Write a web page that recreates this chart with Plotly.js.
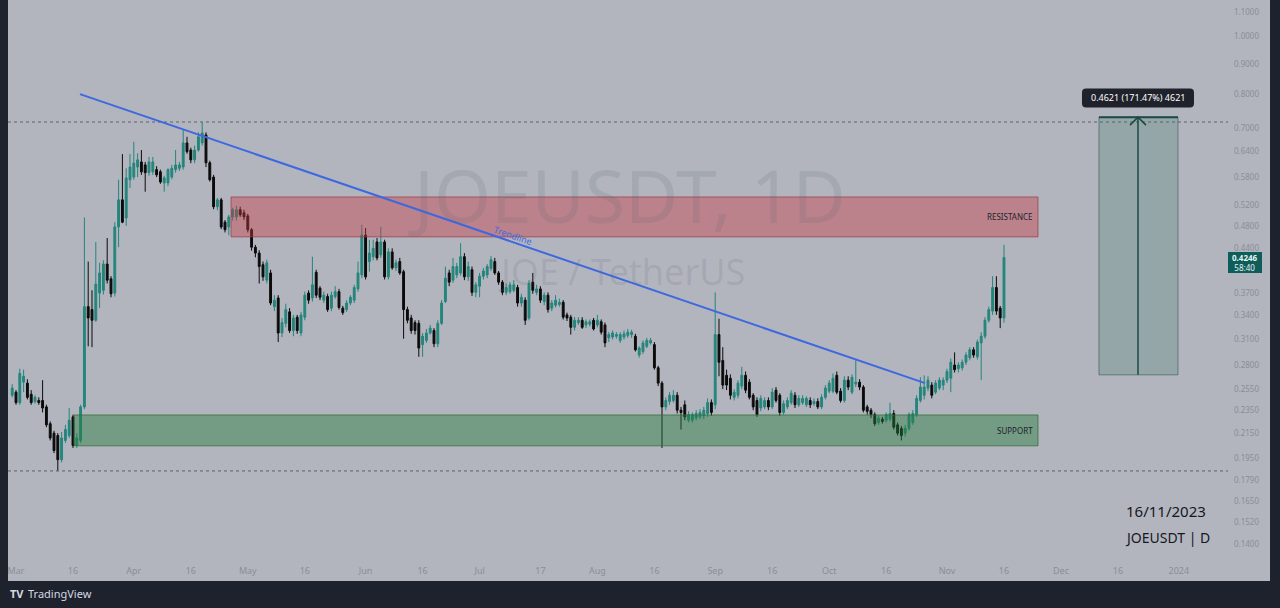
<!DOCTYPE html>
<html><head><meta charset="utf-8">
<script src="https://cdn.plot.ly/plotly-3.0.1.min.js"></script>
<style>html,body{margin:0;padding:0;background:#1e222d;overflow:hidden}#chart{width:1280px;height:608px}</style>
</head><body><div id="chart"></div>
<script>
// ---- data (JOEUSDT daily candles) ----
const startDate = '2023-02-28';
const openP = [
.249,.252,.242,.262,.261,.250,.243,.244,.244,.238,
.223,.215,.213,.194,.209,.213,.229,.205,.209,.238,
.351,.347,.333,.370,.374,.414,.391,.370,.478,.531,
.495,.574,.580,.603,.615,.608,.590,.592,.597,.592,
.567,.567,.580,.597,.600,.603,.662,.644,.620,.644,
.662,.683,.613,.580,.517,.531,.487,.478,.497,.497,
.511,.505,.499,.473,.442,.432,.413,.389,.400,.351,
.363,.317,.329,.344,.320,.337,.317,.337,.370,.363,
.401,.377,.360,.365,.349,.365,.372,.349,.347,.356,
.360,.376,.397,.463,.418,.426,.451,.429,.451,.394,
.434,.408,.418,.402,.347,.336,.330,.329,.303,.308,
.317,.320,.304,.329,.358,.400,.389,.397,.400,.426,
.394,.405,.371,.380,.395,.397,.407,.418,.400,.386,
.371,.372,.374,.378,.356,.360,.336,.386,.371,.376,
.358,.367,.349,.353,.354,.357,.340,.337,.324,.330,
.333,.327,.328,.333,.327,.331,.327,.311,.312,.313,
.308,.312,.314,.315,.313,.291,.295,.301,.305,.303,
.277,.261,.238,.243,.244,.249,.235,.240,.226,.226,
.228,.229,.230,.232,.242,.240,.315,.285,.269,.266,
.247,.249,.258,.269,.262,.249,.244,.237,.238,.244,
.238,.254,.249,.233,.238,.242,.249,.240,.242,.240,
.244,.241,.243,.238,.247,.253,.253,.269,.253,.244,
.264,.252,.260,.262,.257,.238,.235,.231,.224,.227,
.226,.227,.232,.222,.219,.215,.219,.224,.231,.244,
.249,.256,.259,.252,.256,.259,.264,.266,.280,.276,
.277,.283,.288,.297,.289,.305,.313,.333,.345,.378,
.349,.336];
const highP = [
.260,.254,.276,.275,.265,.254,.249,.247,.264,.240,
.225,.217,.215,.216,.222,.237,.231,.215,.240,.496,
.418,.374,.451,.416,.420,.458,.395,.487,.574,.634,
.600,.634,.665,.636,.644,.615,.627,.627,.605,.597,
.583,.600,.608,.644,.615,.696,.678,.650,.655,.690,
.718,.690,.618,.585,.535,.535,.491,.501,.515,.519,
.517,.511,.503,.476,.446,.437,.418,.421,.405,.367,
.367,.336,.355,.349,.340,.340,.344,.372,.374,.426,
.405,.380,.372,.369,.372,.380,.376,.352,.360,.367,
.382,.418,.482,.476,.455,.455,.458,.478,.455,.440,
.440,.421,.424,.405,.351,.340,.333,.333,.317,.322,
.327,.323,.333,.360,.410,.405,.424,.416,.449,.432,
.418,.410,.386,.400,.408,.414,.427,.424,.403,.389,
.384,.386,.389,.382,.369,.364,.389,.400,.382,.380,
.371,.371,.360,.367,.362,.360,.343,.340,.337,.337,
.337,.334,.334,.336,.340,.334,.330,.318,.320,.318,
.318,.320,.322,.321,.316,.301,.308,.311,.311,.306,
.279,.263,.247,.252,.254,.252,.238,.244,.234,.233,
.235,.236,.238,.246,.245,.371,.335,.300,.275,.270,
.255,.264,.278,.273,.265,.251,.247,.249,.247,.247,
.256,.257,.251,.244,.247,.254,.252,.249,.249,.248,
.247,.246,.246,.250,.259,.264,.271,.273,.256,.268,
.268,.270,.285,.265,.259,.240,.237,.233,.230,.229,
.233,.242,.235,.224,.221,.222,.233,.235,.249,.267,
.269,.268,.262,.264,.267,.267,.276,.287,.294,.283,
.286,.294,.300,.300,.309,.318,.337,.351,.395,.395,
.352,.446];
const lowP = [
.247,.240,.240,.252,.245,.240,.241,.240,.233,.220,
.209,.199,.186,.192,.207,.211,.203,.203,.207,.236,
.301,.300,.331,.349,.368,.384,.364,.365,.442,.485,
.480,.556,.574,.580,.585,.548,.583,.585,.580,.565,
.548,.560,.575,.590,.594,.597,.635,.612,.612,.640,
.655,.603,.570,.512,.510,.474,.468,.463,.490,.490,
.497,.491,.468,.436,.425,.384,.388,.384,.353,.345,
.306,.312,.324,.317,.313,.316,.313,.333,.355,.358,
.363,.360,.356,.344,.345,.362,.347,.340,.344,.353,
.356,.372,.392,.390,.402,.420,.420,.424,.390,.390,
.405,.403,.397,.310,.329,.316,.315,.289,.289,.305,
.315,.300,.300,.327,.356,.380,.385,.392,.396,.389,
.388,.366,.364,.364,.390,.392,.403,.397,.382,.367,
.367,.369,.371,.351,.351,.327,.333,.369,.367,.356,
.353,.343,.345,.350,.351,.334,.332,.315,.320,.327,
.322,.323,.325,.320,.324,.315,.300,.306,.309,.310,
.305,.309,.311,.311,.295,.288,.292,.299,.303,.275,
.258,.203,.235,.240,.242,.232,.218,.226,.224,.224,
.226,.227,.227,.229,.230,.236,.268,.255,.254,.245,
.244,.246,.255,.251,.245,.235,.229,.234,.236,.235,
.236,.242,.230,.231,.236,.240,.237,.238,.240,.238,
.237,.239,.236,.236,.245,.251,.251,.250,.242,.242,
.254,.250,.257,.254,.233,.231,.228,.221,.222,.223,
.224,.225,.218,.213,.209,.212,.217,.222,.229,.242,
.245,.253,.246,.250,.254,.254,.261,.252,.272,.272,
.274,.280,.285,.288,.286,.264,.310,.330,.340,.340,
.323,.330];
const closeP = [
.256,.242,.271,.268,.247,.242,.247,.242,.237,.222,
.211,.201,.194,.211,.218,.226,.205,.211,.238,.351,
.336,.333,.383,.400,.414,.389,.369,.478,.531,.487,
.578,.603,.612,.620,.592,.590,.615,.615,.585,.569,
.578,.597,.600,.608,.608,.662,.640,.620,.644,.678,
.688,.613,.574,.517,.531,.478,.473,.497,.511,.511,
.501,.497,.473,.442,.432,.410,.394,.416,.356,.360,
.317,.330,.347,.320,.336,.320,.340,.367,.360,.382,
.367,.364,.367,.347,.367,.372,.350,.343,.356,.364,
.378,.400,.463,.394,.432,.440,.424,.451,.394,.434,
.408,.416,.400,.347,.333,.320,.320,.299,.313,.317,
.323,.304,.329,.356,.392,.386,.410,.410,.426,.394,
.410,.371,.382,.395,.403,.410,.421,.400,.386,.371,
.378,.382,.382,.356,.364,.333,.384,.374,.376,.360,
.367,.347,.356,.360,.357,.337,.336,.324,.333,.333,
.324,.331,.331,.322,.333,.318,.305,.315,.317,.315,
.315,.316,.318,.318,.297,.299,.305,.308,.308,.277,
.261,.238,.244,.249,.249,.235,.233,.229,.231,.231,
.232,.233,.235,.242,.233,.315,.283,.259,.259,.249,
.252,.261,.269,.254,.247,.238,.231,.246,.244,.238,
.252,.244,.233,.241,.244,.251,.240,.246,.246,.246,
.240,.243,.238,.247,.256,.261,.266,.252,.244,.264,
.257,.267,.262,.257,.235,.234,.231,.223,.228,.225,
.231,.232,.220,.215,.213,.219,.231,.232,.246,.257,
.257,.264,.249,.261,.264,.264,.273,.283,.275,.280,
.283,.291,.297,.291,.306,.313,.333,.347,.378,.345,
.336,.4246];

// axis ticks
const xTickVals = ['2023-03-01','2023-03-16','2023-04-01','2023-04-16','2023-05-01','2023-05-16','2023-06-01','2023-06-16','2023-07-01','2023-07-17','2023-08-01','2023-08-16','2023-09-01','2023-09-16','2023-10-01','2023-10-16','2023-11-01','2023-11-16','2023-12-01','2023-12-16','2024-01-01'];
const xTickText = ['Mar','16','Apr','16','May','16','Jun','16','Jul','17','Aug','16','Sep','16','Oct','16','Nov','16','Dec','16','2024'];
const yTickVals = [1.1,1.0,0.9,0.8,0.7,0.64,0.58,0.52,0.48,0.44,0.37,0.34,0.31,0.28,0.255,0.235,0.215,0.195,0.179,0.165,0.152,0.14];
const yTickText = ['1.1000','1.0000','0.9000','0.8000','0.7000','0.6400','0.5800','0.5200','0.4800','0.4400','0.3700','0.3400','0.3100','0.2800','0.2550','0.2350','0.2150','0.1950','0.1790','0.1650','0.1520','0.1400'];

// drawings
const resistanceZone = {from:'2023-04-26 14:00', to:'2023-11-24 22:48', low:0.460, high:0.537};
const supportZone = {from:'2023-03-16 06:15', to:'2023-11-24 22:48', low:0.2047, high:0.2307};
const rangeHigh = 0.718, rangeLow = 0.1857;
const trendStart = {x:'2023-03-17 20:10', y:0.800};
const trendEnd = {x:'2023-10-26 05:00', y:0.261};
const trendLabel = {x:'2023-07-09 19:00', y:0.4617};
const measure = {from:'2023-12-11 00:00', to:'2023-12-31 19:00', mid:'2023-12-21 06:20', base:0.26949, top:0.7316, labelY:0.788};
const measureText = '0.4621 (171.47%) 4621';
const lastPrice = '0.4246', countdown = '58:40';

// ---- build ----
const dates = [];
(function(){
  const d0 = new Date(startDate + 'T00:00:00Z');
  for (let i = 0; i < closeP.length; i++) {
    const d = new Date(d0.getTime() + i*86400000);
    dates.push(d.toISOString().slice(0,10));
  }
})();

const W=1280, H=608, mL=8, mR=52, mT=0, mB=48;
const plotW = W-mL-mR, plotH = H-mT-mB;
const px = x => (x-mL)/plotW;
const py = y => 1-(y-mT)/plotH;
const L10 = Math.log10;

const upC = '#24857c', dnC = '#0b0b0b';
const bg = '#b2b5be';
const font = 'Noto Sans, Open Sans, sans-serif';

const trace = {
  type:'candlestick', x:dates, open:openP, high:highP, low:lowP, close:closeP,
  increasing:{line:{color:upC,width:1}, fillcolor:upC},
  decreasing:{line:{color:dnC,width:1}, fillcolor:dnC},
  whiskerwidth:0, hoverinfo:'skip', showlegend:false
};

const shapes = [
  {type:'rect', xref:'paper', yref:'paper', x0:px(8), x1:px(1270), y0:py(581), y1:py(0), fillcolor:bg, line:{width:0}, layer:'below'},
  {type:'line', xref:'paper', yref:'y', x0:0, x1:1, y0:rangeHigh, y1:rangeHigh, line:{color:'#5d6069', width:1, dash:'dot'}, layer:'below'},
  {type:'line', xref:'paper', yref:'y', x0:0, x1:1, y0:rangeLow, y1:rangeLow, line:{color:'#5d6069', width:1, dash:'dot'}, layer:'below'},
  {type:'rect', xref:'x', yref:'y', x0:resistanceZone.from, x1:resistanceZone.to, y0:resistanceZone.low, y1:resistanceZone.high, fillcolor:'rgba(200,60,70,0.42)', line:{color:'rgba(150,60,70,0.7)', width:1}, layer:'above'},
  {type:'rect', xref:'x', yref:'y', x0:supportZone.from, x1:supportZone.to, y0:supportZone.low, y1:supportZone.high, fillcolor:'rgba(40,125,60,0.45)', line:{color:'rgba(50,110,60,0.75)', width:1}, layer:'above'},
  {type:'line', xref:'x', yref:'y', x0:trendStart.x, y0:trendStart.y, x1:trendEnd.x, y1:trendEnd.y, line:{color:'#3d68e0', width:2}, layer:'above'},
  {type:'rect', xref:'x', yref:'y', x0:measure.from, x1:measure.to, y0:measure.base, y1:measure.top, fillcolor:'rgba(60,125,100,0.25)', line:{color:'rgba(40,80,70,0.55)', width:1}, layer:'above'},
  {type:'line', xref:'x', yref:'y', x0:measure.from, x1:measure.to, y0:measure.top, y1:measure.top, line:{color:'#1b4a46', width:2}, layer:'above'},
  {type:'line', xref:'x', yref:'y', x0:measure.mid, x1:measure.mid, y0:measure.base, y1:measure.top, line:{color:'#1b4a46', width:1.5}, layer:'above'},
  {type:'path', xref:'x', yref:'y', xsizemode:'pixel', ysizemode:'pixel', xanchor:measure.mid, yanchor:measure.top, path:'M-8,-8 L0,0 L8,-8', line:{color:'#1b4a46', width:1.5}, layer:'above'},
  {type:'path', xref:'x', yref:'y', xsizemode:'pixel', ysizemode:'pixel', xanchor:measure.mid, yanchor:measure.labelY,
   path:'M-52,9.5 L52,9.5 Q56,9.5 56,5.5 L56,-5.5 Q56,-9.5 52,-9.5 L-52,-9.5 Q-56,-9.5 -56,-5.5 L-56,5.5 Q-56,9.5 -52,9.5 Z',
   fillcolor:'#1f222b', line:{width:0}, layer:'above'},
  {type:'rect', xref:'paper', yref:'paper', x0:px(1228), x1:px(1262), y0:py(273), y1:py(252), fillcolor:'#0e5d5a', line:{width:0}, layer:'above'},
  {type:'rect', xref:'paper', yref:'paper', x0:px(0), x1:px(8), y0:py(608), y1:py(0), fillcolor:'#1e222d', line:{width:0}, layer:'above'}
];

const A = o => Object.assign({showarrow:false, xanchor:'center', yanchor:'middle'}, o);
const ann = [
  A({xref:'paper', yref:'paper', x:px(627), y:py(194), text:'JOEUSDT, 1D', font:{family:font, size:73, color:'rgba(95,100,115,0.16)'}}),
  A({xref:'paper', yref:'paper', x:px(621), y:py(271), text:'JOE / TetherUS', font:{family:font, size:36, color:'rgba(95,100,115,0.16)'}}),
  A({xref:'x', yref:'y', x:trendLabel.x, y:L10(trendLabel.y), text:'Trendline', textangle:19, font:{family:font, size:9, color:'#3d68e0'}}),
  A({xref:'x', yref:'y', x:resistanceZone.to, y:L10(Math.sqrt(resistanceZone.low*resistanceZone.high)), xanchor:'right', xshift:-3, text:'RESISTANCE', font:{family:font, size:8, color:'#1e222d'}}),
  A({xref:'x', yref:'y', x:supportZone.to, y:L10(Math.sqrt(supportZone.low*supportZone.high)), xanchor:'right', xshift:-3, text:'SUPPORT', font:{family:font, size:8, color:'#1e222d'}}),
  A({xref:'x', yref:'y', x:measure.mid, y:L10(measure.labelY), text:measureText, font:{family:font, size:9, color:'#ffffff'}}),
  A({xref:'paper', yref:'paper', x:px(1245), y:py(262.5), text:'<b>'+lastPrice+'</b><br>'+countdown, font:{family:font, size:8, color:'#e6f4f2'}}),
  A({xref:'paper', yref:'paper', x:px(1166), y:py(511), text:'16/11/2023', font:{family:font, size:15, color:'#15181f'}}),
  A({xref:'paper', yref:'paper', x:px(1167), y:py(537), text:'JOEUSDT | D', font:{family:font, size:14, color:'#15181f'}}),
  A({xref:'paper', yref:'paper', x:px(8), y:py(593), xanchor:'left', text:'<b>TV</b>', font:{family:font, size:11, color:'#d6d9e0'}}),
  A({xref:'paper', yref:'paper', x:px(26), y:py(593), xanchor:'left', text:'TradingView', font:{family:font, size:11, color:'#d6d9e0'}})
];

const layout = {
  width:W, height:H, margin:{l:mL, r:mR, t:mT, b:mB, pad:0},
  paper_bgcolor:'#1e222d', plot_bgcolor:'rgba(0,0,0,0)',
  showlegend:false, hovermode:false,
  xaxis:{type:'date', range:['2023-02-26 21:29','2024-01-13 22:48'], rangeslider:{visible:false},
    tickvals:xTickVals, ticktext:xTickText, tickfont:{family:font, size:9, color:'#8a8d96'},
    showgrid:false, zeroline:false, showline:false, ticks:'', ticklabelstandoff:4, fixedrange:true},
  yaxis:{type:'log', side:'right', range:[L10(0.1315), L10(1.152)],
    tickvals:yTickVals, ticktext:yTickText, tickfont:{family:font, size:8, color:'#8a8d96'},
    showgrid:false, zeroline:false, showline:false, ticks:'', ticklabelstandoff:5, fixedrange:true},
  shapes:shapes, annotations:ann
};

Plotly.newPlot('chart', [trace], layout, {staticPlot:true, displayModeBar:false});
</script></body></html>
